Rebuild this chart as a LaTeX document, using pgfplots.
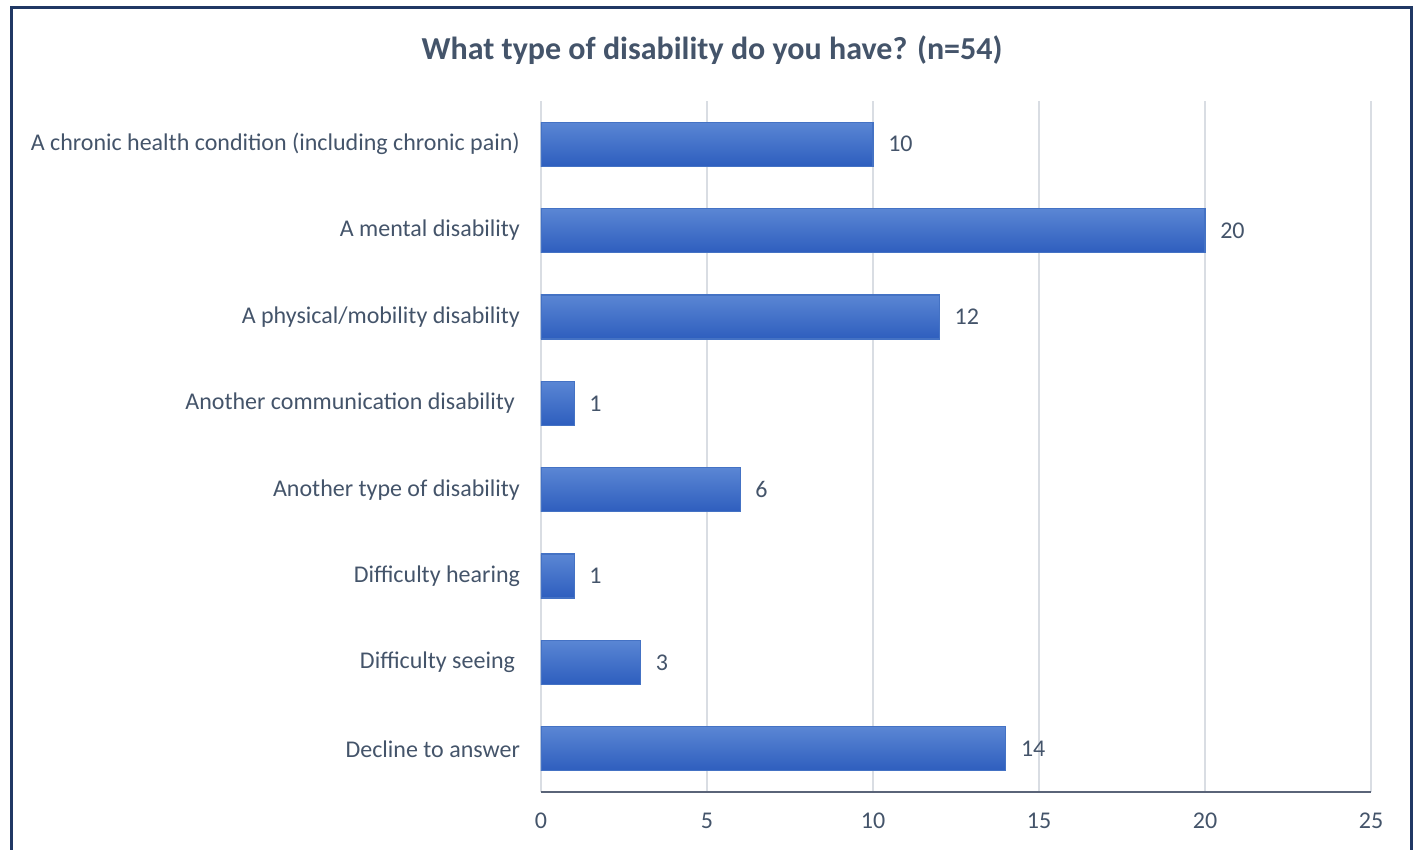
\documentclass[border=0pt]{standalone}
\usepackage{pgfplots}
\pgfplotsset{compat=1.18}
\usepackage{fontspec}
\setmainfont{Carlito}
\definecolor{txt}{HTML}{44546A}
\definecolor{frame}{HTML}{203864}
\definecolor{bartop}{HTML}{5A86D4}
\definecolor{barbot}{HTML}{2E5EBE}
\definecolor{barline}{HTML}{4472C4}
\definecolor{gridc}{HTML}{D9DDE3}
\definecolor{axc}{HTML}{5A6478}

\begin{document}
\begin{tikzpicture}
  \path[use as bounding box] (0,0) rectangle (707.5pt,425pt);
  \draw[frame, line width=1.5pt] (5.5pt,-10pt) rectangle (705.5pt,421pt);
  \node[txt, font=\fontsize{16}{18}\selectfont\bfseries] at (356pt,400pt)
    {What type of disability do you have? (n=54)};
  \begin{axis}[
      at={(270.5pt,29pt)}, anchor=south west,
      scale only axis,
      width=415pt, height=345.5pt,
      xbar, bar width=22pt, bar shift=0pt,
      xmin=0, xmax=25,
      ymin=0.5, ymax=8.5,
      y dir=reverse,
      xtick={0,5,...,25},
      ytick={1,...,8},
      yticklabels={
        {A chronic health condition (including chronic pain)},
        {A mental disability},
        {A physical/mobility disability},
        {Another communication disability\kern2.5pt},
        {Another type of disability},
        {Difficulty hearing},
        {Difficulty seeing\kern2.5pt},
        {Decline to answer}},
      major tick length=0pt,
      xmajorgrids=true,
      grid style={gridc, line width=0.6pt},
      axis line style={draw=none},
      /pgf/number format/assume math mode=true,
      tick label style={txt, font=\fontsize{12}{14}\selectfont},
      xticklabel style={yshift=-7pt},
      yticklabel style={xshift=-7pt},
      nodes near coords,
      nodes near coords style={txt, font=\fontsize{12}{14}\selectfont, anchor=west, xshift=4pt},
      mybar/.style={draw=barline, line width=0.6pt, top color=bartop, bottom color=barbot},
      after end axis/.code={\draw[axc, line width=1pt] (axis cs:0,8.5) -- (axis cs:25,8.5);},
    ]
    \addplot[mybar] coordinates {(10,1)};
    \addplot[mybar] coordinates {(20,2)};
    \addplot[mybar] coordinates {(12,3)};
    \addplot[mybar] coordinates {(1,4)};
    \addplot[mybar] coordinates {(6,5)};
    \addplot[mybar] coordinates {(1,6)};
    \addplot[mybar] coordinates {(3,7)};
    \addplot[mybar] coordinates {(14,8)};
  \end{axis}
\end{tikzpicture}
\end{document}
